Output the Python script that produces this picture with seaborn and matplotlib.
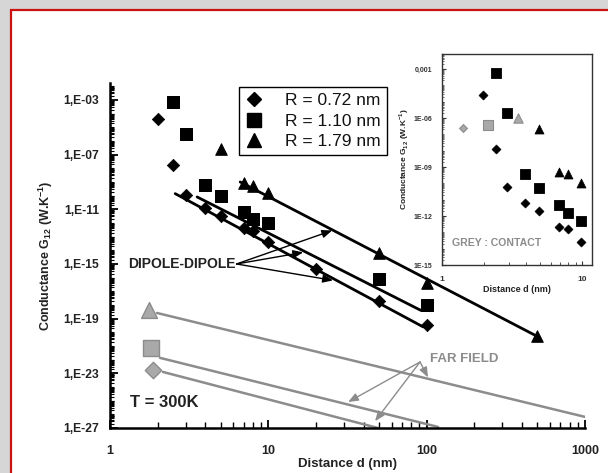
import numpy as np
import pandas as pd
import matplotlib
matplotlib.use("Agg")
import matplotlib.pyplot as plt
import seaborn as sns
from matplotlib.ticker import FixedLocator, LogLocator, NullFormatter, FixedFormatter
from matplotlib.lines import Line2D
from matplotlib.patches import Rectangle

# ---------------- data (main plot) ----------------
d072 = [2, 2.5, 3, 4, 5, 7, 8, 10, 20, 50, 100]
g072 = [4.1e-05, 1.8e-08, 1.1e-10, 1.3e-11, 3.5e-12, 4.0e-13, 2.5e-13, 4.0e-14, 4.0e-16, 2.1e-18, 3.2e-20]
d110 = [2.5, 3, 4, 5, 7, 8, 10, 50, 100]
g110 = [7.1e-04, 3.2e-06, 6.0e-10, 1.0e-10, 6.5e-12, 2.0e-12, 1.0e-12, 7.9e-17, 1.0e-18]
d179 = [5, 7, 8, 10, 50, 100, 500]
g179 = [2.6e-07, 8.5e-10, 5.0e-10, 1.6e-10, 6.3e-15, 4.0e-17, 5.0e-21]

# dipole-dipole fits
fit072_d = [2.58, 95]
fit072_g = [1.4e-10, 2.5e-20]
fit110_d = [3.55, 92]
fit110_g = [8.0e-11, 4.0e-19]
fit179_d = [6.64, 500]
fit179_g = [1.0e-09, 5.0e-21]

# far field lines
ff179_d = [1.98, 1000]
ff179_g = [2.6e-19, 6.5e-27]
ff110_d = [2.07, 118]
ff110_g = [1.35e-22, 1.2e-27]
ff072_d = [2.16, 49.3]
ff072_g = [1.26e-23, 1.0e-27]

# far-field start markers (grey)
ffm_d = [1.87, 1.82, 1.77]
ffm_g = [1.8e-23, 7.2e-22, 4.4e-19]

# ---------------- data (inset) ----------------
in072_d = [1.97, 2.45, 2.9, 3.9, 4.9, 6.9, 7.9, 9.8]
in072_g = [2.5e-05, 1.3e-08, 6.3e-11, 6.3e-12, 2.0e-12, 2.0e-13, 1.6e-13, 2.5e-14]
in110_d = [2.45, 2.9, 3.9, 4.9, 6.8, 7.9, 9.8]
in110_g = [5.6e-04, 2.0e-06, 4.0e-10, 5.0e-11, 5.0e-12, 1.6e-12, 5.0e-13]
in179_d = [4.9, 6.8, 7.9, 9.8]
in179_g = [2.0e-07, 5.0e-10, 4.0e-10, 1.0e-10]
contact_d = [1.42, 2.14, 3.5]
contact_g = [2.5e-07, 4.0e-07, 1.0e-06]

legend_labels = ["R = 0.72 nm", "R = 1.10 nm", "R = 1.79 nm"]
main_yticks = [1e-27, 1e-23, 1e-19, 1e-15, 1e-11, 1e-07, 1e-03]
main_yticklabels = ["1,E-27", "1,E-23", "1,E-19", "1,E-15", "1,E-11", "1,E-07", "1,E-03"]
main_xticks = [1, 10, 100, 1000]
main_xticklabels = ["1", "10", "100", "1000"]
inset_yticks = [1e-15, 1e-12, 1e-09, 1e-06, 1e-03]
inset_yticklabels = ["1E-15", "1E-12", "1E-09", "1E-06", "0,001"]

# ---------------- style ----------------
sns.set_theme(style="white")
plt.rcParams["font.family"] = ["Liberation Sans", "DejaVu Sans"]
plt.rcParams["mathtext.fontset"] = "custom"
plt.rcParams["mathtext.bf"] = "Liberation Sans:bold"
plt.rcParams["mathtext.rm"] = "Liberation Sans"

GREY = "#8c8c8c"
GREYF = "#a9a9a9"

fig = plt.figure(figsize=(6.08, 4.73), dpi=100)
fig.patch.set_facecolor("#d6d6d6")
fig.patches.append(Rectangle((11 / 608, -0.05), 1.05, 1 - 10 / 473 + 0.05,
                             transform=fig.transFigure, facecolor="white",
                             edgecolor="#cc1111", lw=1.6, zorder=-1))

ax = fig.add_axes([110 / 608, 1 - 428 / 473, (585 - 110) / 608, (428 - 83) / 473])
ax.set_facecolor("none")
ax.set_xscale("log")
ax.set_yscale("log")
ax.set_xlim(1, 1000)
ax.set_ylim(1e-27, 10 ** -1.76)

# far field lines
for xd, yg in [(ff179_d, ff179_g), (ff110_d, ff110_g), (ff072_d, ff072_g)]:
    sns.lineplot(x=xd, y=yg, ax=ax, color=GREY, lw=1.8, zorder=2)
# grey start markers
for m, s, xv, yv in [("D", 70, ffm_d[0], ffm_g[0]), ("s", 120, ffm_d[1], ffm_g[1]), ("^", 130, ffm_d[2], ffm_g[2])]:
    sns.scatterplot(x=[xv], y=[yv], ax=ax, marker=m, s=s, color=GREYF, edgecolor=GREY, linewidth=1, zorder=3)

# dipole fit lines
for xd, yg in [(fit072_d, fit072_g), (fit110_d, fit110_g), (fit179_d, fit179_g)]:
    sns.lineplot(x=xd, y=yg, ax=ax, color="black", lw=2.0, zorder=3)

sns.scatterplot(x=d072, y=g072, ax=ax, marker="D", s=40, color="black", edgecolor="black", zorder=4)
sns.scatterplot(x=d110, y=g110, ax=ax, marker="s", s=82, color="black", edgecolor="black", zorder=4)
sns.scatterplot(x=d179, y=g179, ax=ax, marker="^", s=70, color="black", edgecolor="black", zorder=4)

# axes styling
for sp in ["top", "right"]:
    ax.spines[sp].set_visible(False)
for sp in ["left", "bottom"]:
    ax.spines[sp].set_color("black")
    ax.spines[sp].set_linewidth(1.8)
ax.yaxis.set_major_locator(FixedLocator(main_yticks))
ax.yaxis.set_major_formatter(FixedFormatter(main_yticklabels))
ax.yaxis.set_minor_locator(LogLocator(base=10, subs=np.arange(1, 10), numticks=400))
ax.yaxis.set_minor_formatter(NullFormatter())
ax.xaxis.set_major_locator(FixedLocator(main_xticks))
ax.xaxis.set_major_formatter(FixedFormatter(main_xticklabels))
ax.xaxis.set_minor_locator(LogLocator(base=10, subs=np.arange(2, 10), numticks=50))
ax.xaxis.set_minor_formatter(NullFormatter())
ax.tick_params(axis="both", which="both", direction="in", color="black", left=True, bottom=True)
ax.tick_params(axis="y", which="major", length=6, width=1.3, pad=8, labelsize=8.7, labelcolor="#222222")
ax.tick_params(axis="y", which="minor", length=3, width=0.8)
ax.tick_params(axis="x", which="major", length=6, width=1.3, pad=12, labelsize=9, labelcolor="#222222")
ax.tick_params(axis="x", which="minor", length=4, width=1.0)
for lab in ax.get_xticklabels() + ax.get_yticklabels():
    lab.set_fontweight("bold")

ax.set_xlabel("Distance d (nm)", fontsize=9.5, fontweight="bold", labelpad=1, color="#222222")
ax.set_ylabel(r"Conductance G$_{\mathbf{12}}$ (W.K$^{\mathbf{-1}}$)", fontsize=9,
              fontweight="bold", labelpad=6, color="#222222")

# annotations
ax.text(1.34, 10 ** -25.17, "T = 300K", fontsize=12, fontweight="bold", va="center", ha="left", color="#222222")
dip_src = (6.3, 1.0e-15)
ax.text(6.2, 1.0e-15, "DIPOLE-DIPOLE", fontsize=10, fontweight="bold", va="center", ha="right", color="#222222")
for tgt in [(25.3, 10 ** -12.55), (16.6, 10 ** -14.15), (25.6, 10 ** -16.2)]:
    ax.annotate("", xy=tgt, xytext=dip_src,
                arrowprops=dict(arrowstyle="-|>,head_length=0.5,head_width=0.2", color="black", lw=1.0,
                                shrinkA=0, shrinkB=0))
ax.text(105, 10 ** -21.95, "FAR FIELD", fontsize=9.5, fontweight="bold", va="center", ha="left", color=GREY)
ff_src = (90.8, 10 ** -22.17)
for tgt in [(31.9, 10 ** -25.1), (47.2, 10 ** -26.5), (102, 10 ** -23.3)]:
    ax.annotate("", xy=tgt, xytext=ff_src,
                arrowprops=dict(arrowstyle="-|>,head_length=0.5,head_width=0.2", color=GREY, lw=1.0,
                                shrinkA=0, shrinkB=0))

# legend
handles = [Line2D([], [], marker="D", color="black", ls="none", markersize=7.5),
           Line2D([], [], marker="s", color="black", ls="none", markersize=9.5),
           Line2D([], [], marker="^", color="black", ls="none", markersize=10.5)]
leg = fig.legend(handles, legend_labels, loc="upper left", bbox_to_anchor=(239 / 608, 1 - 87 / 473),
                 bbox_transform=fig.transFigure, fontsize=12.5, frameon=True, fancybox=False,
                 edgecolor="black", framealpha=1, borderpad=0.35, labelspacing=0.3,
                 handletextpad=1.3, handlelength=1.0, borderaxespad=0)
leg.get_frame().set_linewidth(1.0)
for t in leg.get_texts():
    t.set_color("#111111")

# ---------------- inset ----------------
ia = fig.add_axes([442 / 608, 1 - 265 / 473, (592 - 442) / 608, (265 - 54) / 473])
ia.set_facecolor("white")
ia.set_xscale("log")
ia.set_yscale("log")
ia.set_xlim(1, 11.8)
ia.set_ylim(1e-15, 10 ** -2.08)
sns.scatterplot(x=contact_d[0:1], y=contact_g[0:1], ax=ia, marker="D", s=16, color=GREYF, edgecolor=GREY, linewidth=0.8, zorder=3)
sns.scatterplot(x=contact_d[1:2], y=contact_g[1:2], ax=ia, marker="s", s=45, color=GREYF, edgecolor=GREY, linewidth=0.8, zorder=3)
sns.scatterplot(x=contact_d[2:3], y=contact_g[2:3], ax=ia, marker="^", s=45, color=GREYF, edgecolor=GREY, linewidth=0.8, zorder=3)
sns.scatterplot(x=in072_d, y=in072_g, ax=ia, marker="D", s=22, color="black", edgecolor="black", zorder=4)
sns.scatterplot(x=in110_d, y=in110_g, ax=ia, marker="s", s=58, color="black", edgecolor="black", zorder=4)
sns.scatterplot(x=in179_d, y=in179_g, ax=ia, marker="^", s=42, color="black", edgecolor="black", zorder=4)
for sp in ia.spines.values():
    sp.set_visible(True)
    sp.set_color("#333333")
    sp.set_linewidth(1.0)
ia.yaxis.set_major_locator(FixedLocator(inset_yticks))
ia.yaxis.set_major_formatter(FixedFormatter(inset_yticklabels))
ia.yaxis.set_minor_locator(LogLocator(base=10, subs=np.arange(1, 10), numticks=400))
ia.yaxis.set_minor_formatter(NullFormatter())
ia.xaxis.set_major_locator(FixedLocator([1, 10]))
ia.xaxis.set_major_formatter(FixedFormatter(["1", "10"]))
ia.xaxis.set_minor_locator(LogLocator(base=10, subs=np.arange(2, 10), numticks=50))
ia.xaxis.set_minor_formatter(NullFormatter())
ia.tick_params(axis="both", which="both", direction="in", left=True, bottom=True, color="#333333")
ia.tick_params(axis="y", which="major", length=3, width=0.8, pad=7, labelsize=5)
ia.tick_params(axis="y", which="minor", length=1.5, width=0.5)
ia.tick_params(axis="x", which="major", length=3, width=0.8, pad=8, labelsize=6)
ia.tick_params(axis="x", which="minor", length=2, width=0.6)
for lab in ia.get_xticklabels() + ia.get_yticklabels():
    lab.set_fontweight("bold")
    lab.set_color("#333333")
ia.set_xlabel("Distance d (nm)", fontsize=6.5, fontweight="bold", labelpad=1, color="#222222")
ia.set_ylabel(r"Conductance G$_{\mathbf{12}}$ (W.K$^{\mathbf{-1}}$)", fontsize=6,
              fontweight="bold", labelpad=2, color="#222222")
ia.text(0.07, 0.105, "GREY : CONTACT", transform=ia.transAxes, fontsize=7.6, fontweight="bold",
        color=GREY, ha="left", va="center")

fig.savefig("out.png", dpi=100, facecolor=fig.get_facecolor())
